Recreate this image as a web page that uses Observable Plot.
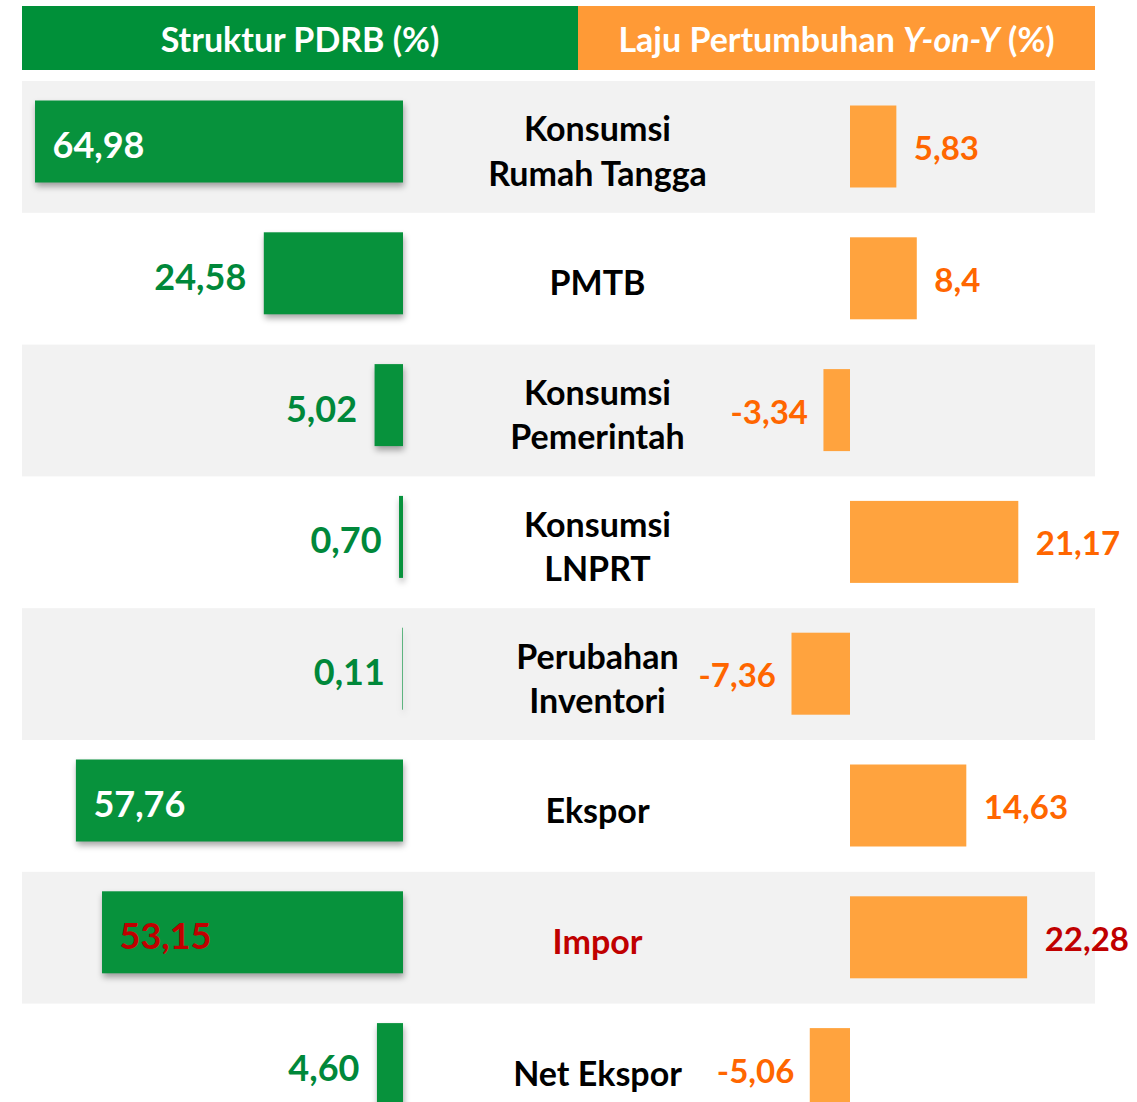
<!DOCTYPE html>
<html><head><meta charset="utf-8">
<script src="https://cdn.jsdelivr.net/npm/d3@7"></script>
<script src="https://cdn.jsdelivr.net/npm/@observablehq/plot@0.6"></script>
<style>
html,body{margin:0;padding:0;background:#fff;overflow:hidden;font-family:Lato,"Open Sans",sans-serif}
#hdr{position:relative;width:1137px;height:70px}
.hdr{position:absolute;top:6px;height:64px;color:#fff;font-weight:700;font-size:34px;display:flex;align-items:center;justify-content:center;white-space:pre}
#chart{position:relative;width:1137px;height:1032px}
#chart svg{position:absolute;left:0;top:0;background:transparent;font-family:Lato,"Open Sans",sans-serif}
</style></head><body>
<div id="hdr">
<div class="hdr" style="left:22px;width:556px;background:#009039">Struktur PDRB (%)</div>
<div class="hdr" style="left:578px;width:517px;background:#ff9a36">Laju Pertumbuhan <i>Y-on-Y</i> (%)</div>
</div>
<div id="chart"></div>
<script>
const categories = ["Konsumsi\nRumah Tangga","PMTB","Konsumsi\nPemerintah","Konsumsi\nLNPRT","Perubahan\nInventori","Ekspor","Impor","Net Ekspor"];
const struktur = [64.98,24.58,5.02,0.70,0.11,57.76,53.15,4.60];
const strukturLabels = ["64,98","24,58","5,02","0,70","0,11","57,76","53,15","4,60"];
const laju = [5.83,8.4,-3.34,21.17,-7.36,14.63,22.28,-5.06];
const lajuLabels = ["5,83","8,4","-3,34","21,17","-7,36","14,63","22,28","-5,06"];
const highlight = "Impor";

const rows = categories.map((c,i)=>({cat:c, s:struktur[i], sl:strukturLabels[i], g:laju[i], gl:lajuLabels[i], shaded:i%2===0, hi:c===highlight}));

const STEP = 131.8;
const W = 1137, H = 11 + Math.ceil(8*STEP);
const yScale = {domain: categories, range:[11, 11 + 8*STEP], padding:0, round:false, axis:null};
const GREEN = "#07923c", GREEN_TXT = "#00883a", ORANGE = "#ffa33e", ORANGE_TXT = "#ff6600", RED = "#c00000";

const left = Plot.plot({
  width: W, height: H, marginLeft: 22, marginRight: 42, marginTop: 11, marginBottom: 0,
  style: {fontFamily: "Lato, 'Open Sans', sans-serif", background: "transparent"},
  x: {domain:[0,65], range:[403, 403 - 65*5.663], axis:null},
  y: yScale,
  marks: [
    Plot.cell(rows.filter(d=>d.shaded), {y:"cat", fill:"#f2f2f2"}),
    Plot.barX(rows, {y:"cat", x:"s", fill:GREEN, insetTop:19.5, insetBottom:30.3,
      imageFilter:"drop-shadow(1px 4px 3px rgba(0,0,0,0.35))"}),
    Plot.text(rows.filter(d=>d.s>40), {y:"cat", x:"s", text:"sl", textAnchor:"start", dx:17, dy:-1,
      fill:d=>d.hi?RED:"#fff", fontSize:36, fontWeight:700}),
    Plot.text(rows.filter(d=>d.s<=40), {y:"cat", x:"s", text:"sl", textAnchor:"end", dx:-18, dy:-1,
      fill:GREEN_TXT, fontSize:36, fontWeight:700}),
    Plot.text(rows, {y:"cat", text:"cat", frameAnchor:"middle", dx:38.5, dy:2, lineHeight:1.3,
      fill:d=>d.hi?RED:"#000", fontSize:34, fontWeight:700})
  ]
});

const right = Plot.plot({
  width: W, height: H, marginLeft: 22, marginRight: 42, marginTop: 11, marginBottom: 0,
  style: {fontFamily: "Lato, 'Open Sans', sans-serif", background: "transparent"},
  x: {domain:[0,10], range:[850, 850 + 10*7.95], axis:null},
  y: yScale,
  marks: [
    Plot.barX(rows, {y:"cat", x:"g", fill:ORANGE, insetTop:24.5, insetBottom:25.3}),
    Plot.text(rows.filter(d=>d.g>=0), {y:"cat", x:"g", text:"gl", textAnchor:"start", dx:17, dy:2,
      fill:d=>d.hi?RED:ORANGE_TXT, fontSize:33, fontWeight:700}),
    Plot.text(rows.filter(d=>d.g<0), {y:"cat", x:"g", text:"gl", textAnchor:"end", dx:-16, dy:2,
      fill:d=>d.hi?RED:ORANGE_TXT, fontSize:33, fontWeight:700})
  ]
});

const chart = document.getElementById("chart");
chart.appendChild(left);
chart.appendChild(right);
</script>
</body></html>
